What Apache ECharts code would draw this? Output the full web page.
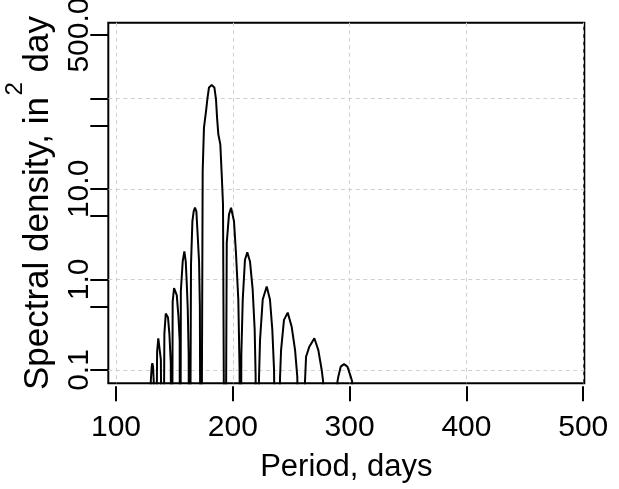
<!DOCTYPE html>
<html>
<head>
<meta charset="utf-8">
<script src="https://cdn.jsdelivr.net/npm/echarts@6/dist/echarts.min.js"></script>
<style>
html,body{margin:0;padding:0;background:#fff;}
#chart{width:619px;height:489px;}
</style>
</head>
<body>
<div id="chart"></div>
<script>
// Period (days) and spectral density (in^2 day); 1e-4 entries are the near-zero gaps between lobes
const periods = [
  120,
  129.9, 130.6, 131.1, 131.7, 132.3,
  133.2,
  135.2, 136.2, 137.3, 138.4,
  140.0,
  141.4, 142.6, 143.5, 144.5, 145.7, 146.9,
  147.7,
  148.5, 149.7, 150.5, 152.0, 153.4, 154.5,
  155.0,
  155.5, 157.1, 158.5, 159.7, 160.5, 161.4, 162.2,
  162.9,
  164.2, 165.4, 166.5, 167.6, 168.8, 169.9, 171.1, 171.8,
  172.7,
  174.2, 175.3, 177.1, 178.2, 179.6, 181.9, 184.2, 185.6, 186.5, 187.6, 189.3, 190.5, 191.6,
  193.3,
  194.8, 196.7, 198.5, 201.0, 202.7, 204.7, 205.8,
  206.5,
  207.3, 208.5, 210.4, 212.4, 214.7, 217.0, 218.7, 219.5,
  220.9,
  222.4, 223.3, 225.6, 229.0, 231.8, 233.8, 235.3,
  237.8,
  240.4, 241.3, 243.8, 247.0, 250.4, 253.3, 255.2,
  258.5,
  261.8, 262.7, 265.5, 269.8, 273.2, 276.1, 277.3,
  283.5,
  289.6, 290.3, 292.4, 295.2, 298.1, 301.0, 302.2,
  310
];
const density = [
  1e-4,
  0.08, 0.11, 0.119, 0.11, 0.075,
  1e-4,
  0.16, 0.224, 0.215, 0.13,
  1e-4,
  0.25, 0.42, 0.435, 0.38, 0.25, 0.12,
  1e-4,
  0.57, 0.8, 0.84, 0.67, 0.40, 0.21,
  1e-4,
  0.74, 1.58, 2.04, 1.58, 0.95, 0.48, 0.15,
  1e-4,
  1.46, 4.4, 5.66, 6.2, 5.66, 3.1, 1.58, 0.5,
  1e-4,
  15.7, 47.5, 72.6, 97.7, 132, 140, 132, 97.7, 61.2, 40, 31, 14.4, 6.7,
  1e-4,
  2.53, 5.2, 6.2, 4.39, 1.96, 0.6, 0.1,
  1e-4,
  0.15, 0.6, 1.65, 1.99, 1.58, 0.77, 0.28, 0.09,
  1e-4,
  0.08, 0.215, 0.6, 0.836, 0.6, 0.28, 0.1,
  1e-4,
  0.08, 0.166, 0.358, 0.43, 0.30, 0.166, 0.084,
  1e-4,
  0.075, 0.14, 0.181, 0.224, 0.166, 0.1, 0.075,
  1e-4,
  0.075, 0.084, 0.109, 0.116, 0.109, 0.084, 0.074,
  1e-4
];
const xTicks = [100, 200, 300, 400, 500];
const yTicks = [0.1, 0.5, 1, 5, 10, 50, 100, 500];
const yLabels = [0.1, 1, 10, 500];
const yGrid = [0.1, 1, 10, 100];
const xRange = [93.4, 500.9];
const yRange = [0.0713, 684];
const yTitleMain = 'Spectral density, in';
const yTitleSup = '2';
const yTitleTail = 'day';

const L = Math.log10;
const fontFam = '"Liberation Sans", Arial, Helvetica, sans-serif';
const chart = echarts.init(document.getElementById('chart'), null, {renderer: 'canvas'});
const dashStyle = {color: '#cfcfcf', width: 1, type: [4, 3.5]};

// y-axis title layout (rotated text with a raised superscript)
const mctx = document.createElement('canvas').getContext('2d');
function tw(t, size) { mctx.font = size + 'px ' + fontFam; return mctx.measureText(t).width; }
const tSize = 35, sSize = 24;
const wMain = tw(yTitleMain, tSize), wSup = tw(yTitleSup, sSize), wSpace = tw(' ', tSize), wTail = tw(yTitleTail, tSize);
const total = wMain + 1.5 + wSup + wSpace + wTail;
const plotMidY = 22.7 + (489 - 105.7 - 22.7) / 2;
const y0 = plotMidY + total / 2;
const mainX = 37.9, supX = 15.7;

chart.setOption({
  animation: false,
  backgroundColor: '#fff',
  grid: {left: 108.3, right: 34.7, top: 22.7, bottom: 105.7, show: true,
         containLabel: false, outerBoundsMode: 'none',
         borderColor: '#000', borderWidth: 2, backgroundColor: 'transparent'},
  graphic: [
    {type: 'text', x: mainX, y: y0, rotation: Math.PI / 2, silent: true,
     style: {text: yTitleMain, font: tSize + 'px ' + fontFam, fill: '#000', align: 'left', verticalAlign: 'middle'}},
    {type: 'text', x: supX, y: y0 - wMain - 1.5, rotation: Math.PI / 2, silent: true,
     style: {text: yTitleSup, font: sSize + 'px ' + fontFam, fill: '#000', align: 'left', verticalAlign: 'middle'}},
    {type: 'text', x: mainX, y: y0 - wMain - 1.5 - wSup - wSpace, rotation: Math.PI / 2, silent: true,
     style: {text: yTitleTail, font: tSize + 'px ' + fontFam, fill: '#000', align: 'left', verticalAlign: 'middle'}}
  ],
  xAxis: [{
    type: 'value', min: xRange[0], max: xRange[1], offset: 3, position: 'bottom',
    name: 'Period, days', nameLocation: 'middle', nameGap: 66,
    nameTextStyle: {fontFamily: fontFam, fontSize: 31, color: '#000'},
    axisLine: {show: false, onZero: false},
    axisTick: {show: true, length: 15, inside: false, customValues: xTicks,
               lineStyle: {color: '#000', width: 2}},
    axisLabel: {customValues: xTicks, margin: 26, fontFamily: fontFam, fontSize: 30, color: '#000',
                formatter: v => String(Math.round(v))},
    splitLine: {show: true, lineStyle: dashStyle}
  }],
  yAxis: [{
    type: 'value', min: L(yRange[0]), max: L(yRange[1]), position: 'left',
    axisLine: {show: false, onZero: false},
    axisTick: {show: true, length: 18, customValues: yTicks.map(L),
               lineStyle: {color: '#000', width: 2}},
    axisLabel: {customValues: yLabels.map(L), rotate: 90, margin: 14,
                fontFamily: fontFam, fontSize: 30, color: '#000',
                formatter: v => Math.pow(10, v).toFixed(1)},
    splitLine: {show: false}
  }, {
    type: 'value', min: L(yRange[0]), max: L(yRange[1]), position: 'right',
    axisLine: {show: false, onZero: false},
    axisTick: {show: false, customValues: yGrid.map(L)},
    axisLabel: {show: false},
    splitLine: {show: true, lineStyle: dashStyle}
  }],
  series: [{
    type: 'line', xAxisIndex: 0, yAxisIndex: 0,
    data: periods.map((p, i) => [p, L(density[i])]),
    showSymbol: false, symbol: 'none', clip: true,
    lineStyle: {color: '#000', width: 2},
    z: 5
  }]
});
</script>
</body>
</html>
